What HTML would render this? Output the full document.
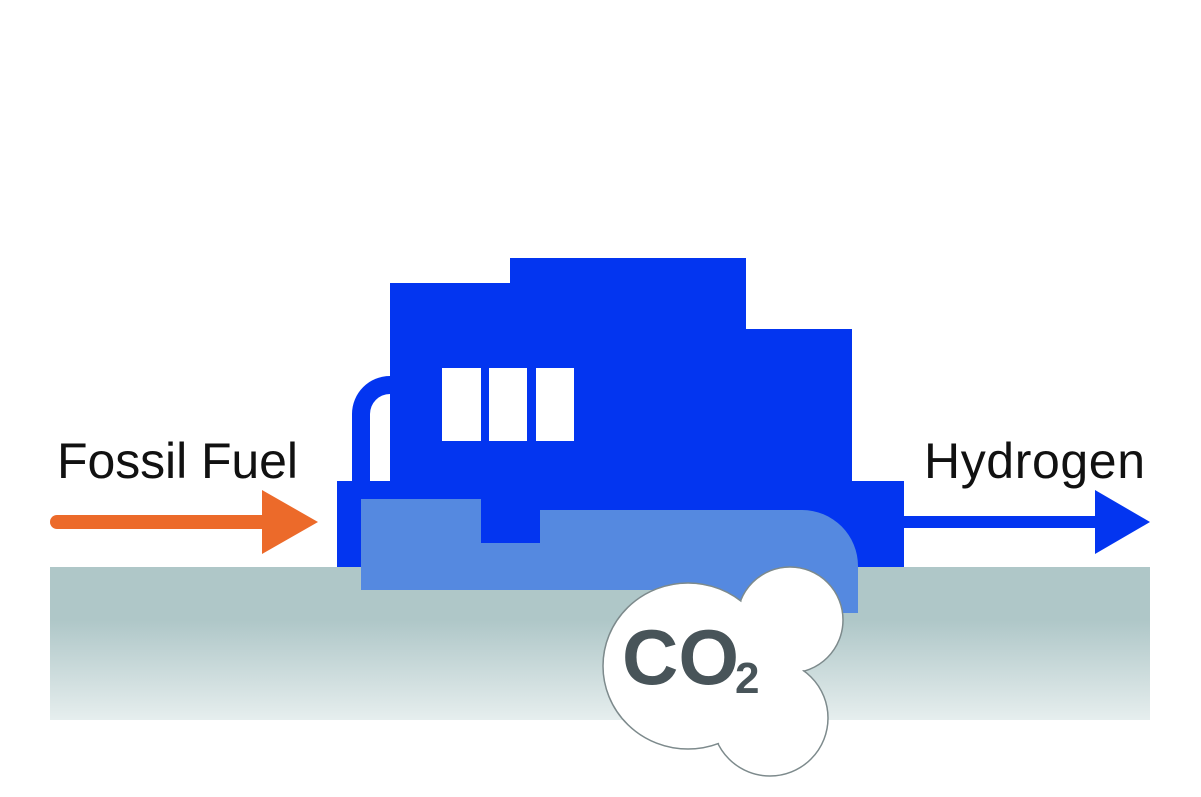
<!DOCTYPE html>
<html><head><style>
html,body{margin:0;padding:0;background:#fff;}
svg{display:block;}
</style></head><body>
<svg width="1201" height="797" viewBox="0 0 1201 797" xmlns="http://www.w3.org/2000/svg">
<defs>
<linearGradient id="g" x1="0" y1="0" x2="0" y2="1">
<stop offset="0" stop-color="#afc7c8"/>
<stop offset="0.35" stop-color="#afc7c8"/>
<stop offset="1" stop-color="#e6eeee"/>
</linearGradient>
</defs>
<rect x="50" y="567" width="1100" height="153" fill="url(#g)"/>
<path d="M390 376 A38 38 0 0 0 352 414 L352 490 L370 490 L370 414 A20 20 0 0 1 390 394 Z" fill="#0335f0"/>
<path d="M390 283 L510 283 L510 258 L746 258 L746 329 L852 329 L852 481 L904 481 L904 567 L337 567 L337 481 L390 481 Z" fill="#0335f0"/>
<rect x="442" y="368" width="39" height="73" fill="#fff"/>
<rect x="489" y="368" width="38" height="73" fill="#fff"/>
<rect x="536" y="368" width="38" height="73" fill="#fff"/>
<path d="M361 499 L481 499 L481 543 L540 543 L540 510 L802 510 A56 56 0 0 1 858 566 L858 613 L700 613 L700 590 L361 590 Z" fill="#5589e0"/>
<line x1="57" y1="522" x2="268" y2="522" stroke="#ec6a2a" stroke-width="14" stroke-linecap="round"/>
<polygon points="262,490 318,522 262,554" fill="#ec6a2a"/>
<line x1="900" y1="522" x2="1100" y2="522" stroke="#0335f0" stroke-width="12"/>
<polygon points="1095,490 1150,522 1095,554" fill="#0335f0"/>
<g stroke="#7d8a8c" stroke-width="1.5" fill="#fff">
<circle cx="790" cy="620" r="53"/>
<circle cx="770" cy="718" r="58"/>
<ellipse cx="688" cy="666" rx="85" ry="83"/>
</g>
<g fill="#fff">
<circle cx="790" cy="620" r="52"/>
<circle cx="770" cy="718" r="57"/>
</g>
<ellipse cx="688" cy="666" rx="84" ry="82" fill="#fff"/>
<text x="622" y="684" font-family="Liberation Sans, sans-serif" font-weight="bold" font-size="78" fill="#485459">CO</text>
<text x="735" y="693" font-family="Liberation Sans, sans-serif" font-weight="bold" font-size="44" fill="#485459">2</text>
<text x="57" y="478" font-family="Liberation Sans, sans-serif" font-size="50" textLength="241" fill="#111">Fossil Fuel</text>
<text x="924" y="478" font-family="Liberation Sans, sans-serif" font-size="50" textLength="221" fill="#111">Hydrogen</text>
</svg>
</body></html>
